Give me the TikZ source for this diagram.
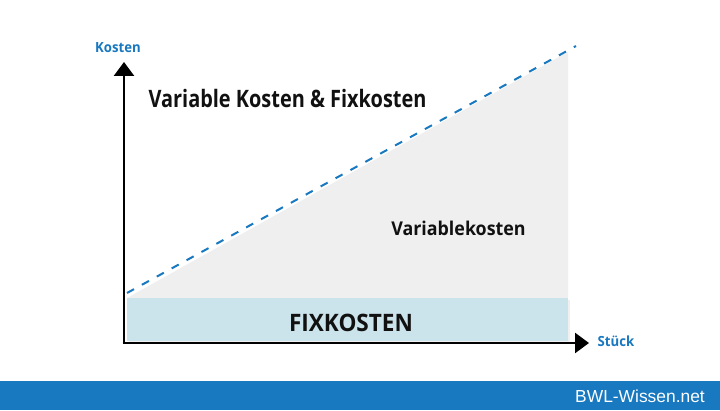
\documentclass[tikz,border=0pt]{standalone}
\usepackage{fontspec}
\setmainfont{Open Sans}
\newfontfamily\semib[BoldFeatures={FakeStretch=0.94}]{Open Sans}
\newfontfamily\semibc[BoldFeatures={FakeStretch=0.83}]{Open Sans}
\newfontfamily\arialf{Liberation Sans}
\usetikzlibrary{arrows.meta}
\definecolor{bwlblue}{HTML}{1878C0}
\definecolor{fixfill}{HTML}{CBE3EA}
\definecolor{varfill}{HTML}{EFEFEF}
\definecolor{txtdark}{HTML}{111111}
\tikzset{
  axisline/.style={line width=2.6pt, black, -{Triangle[length=14pt,width=20pt]}},
  costline/.style={bwlblue, line width=2pt, dash pattern=on 8pt off 9pt},
  axislabel/.style={text=bwlblue, font=\semib\bfseries\fontsize{14}{16}\selectfont, inner sep=0pt},
  biglabel/.style={text=txtdark, font=\semib\bfseries\fontsize{24}{28}\selectfont, inner sep=0pt, anchor=base},
  titlelabel/.style={text=txtdark, font=\semibc\bfseries\fontsize{24}{28}\selectfont, inner sep=0pt, anchor=base},
  midlabel/.style={text=txtdark, font=\semib\bfseries\fontsize{19}{22}\selectfont, inner sep=0pt, anchor=base}
}
\begin{document}
\begin{tikzpicture}[x=1pt,y=1pt]
\useasboundingbox (0,0) rectangle (720,410);
\fill[white] (0,0) rectangle (720,410);
% footer band
\fill[bwlblue] (0,0) rectangle (720,29);
\node[text=white, font=\arialf\fontsize{17.4}{20}\selectfont, anchor=base east, inner sep=0pt] (brand) at (705,8) {BWL-Wissen.net};
% areas
\fill[varfill] (127,112) -- (568,358) -- (568,112) -- cycle;
\fill[black!6] (129,67) rectangle (570,110);
\fill[fixfill] (127,69) rectangle (568,112);
% coordinates
\coordinate (O) at (124,67);
\coordinate (ytip) at (124,348);
\coordinate (xtip) at (589,67);
\coordinate (ds) at (127,117);
\coordinate (de) at (576,364);
% dashed cost line
\draw[costline] (ds) -- (de);
% axes
\draw[axisline] (124,68.3) -- (ytip);
\draw[axisline] (122.7,67) -- (xtip);
% labels
\node[axislabel] (kosten) at (118,362) {Kosten};
\node[axislabel] (stueck) at (616,69) {Stück};
\node[titlelabel] (title) at (287.5,302) {Variable Kosten \& Fixkosten};
\node[midlabel] (var) at (458.5,174) {Variablekosten};
\node[biglabel] (fix) at (351,79) {FIXKOSTEN};
\end{tikzpicture}
\end{document}
